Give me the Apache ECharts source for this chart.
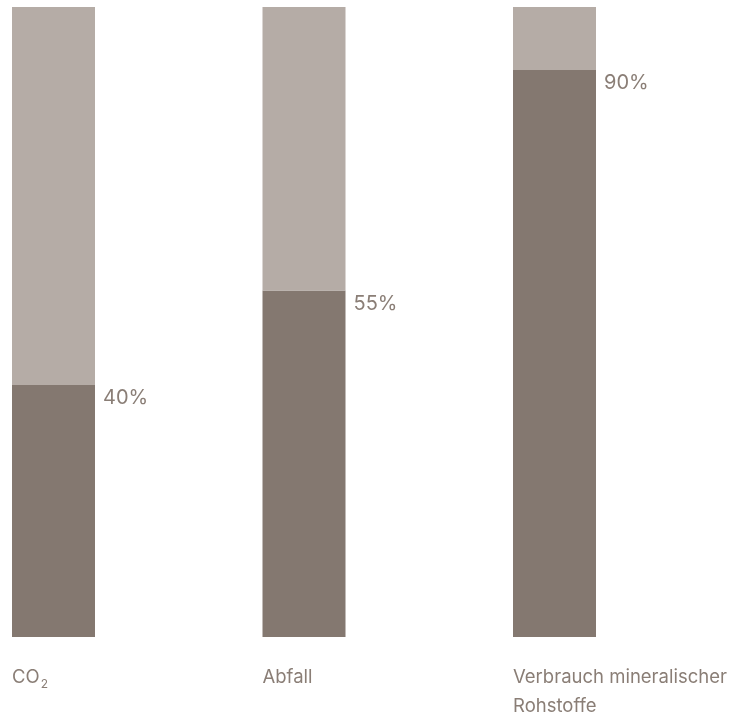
<!DOCTYPE html>
<html>
<head>
<meta charset="utf-8">
<script src="https://cdn.jsdelivr.net/npm/echarts@6/dist/echarts.min.js"></script>
<style>
html,body{margin:0;padding:0;background:#fff;}
#chart{width:736px;height:718px;}
</style>
</head>
<body>
<div id="chart"></div>
<script>
var categories = ['{a|CO}{sub|2}', 'Abfall', 'Verbrauch mineralischer\nRohstoffe'];
var shareValues = [40, 55, 90];
var restValues = [60, 45, 10];
var percentLabels = ['40%', '55%', '90%'];

var chart = echarts.init(document.getElementById('chart'), null, {renderer: 'canvas'});
var FONT = 'Inter, "Noto Sans", sans-serif';
var TEXT = '#8a7e76';
chart.setOption({
  animation: false,
  grid: {left: 53.5, right: 181.5, top: 7, bottom: 81, containLabel: false, outerBoundsMode: 'none'},
  xAxis: {
    type: 'category',
    data: categories,
    boundaryGap: false,
    axisLine: {show: false},
    axisTick: {show: false},
    splitLine: {show: false},
    axisLabel: {
      interval: 0,
      hideOverlap: false,
      align: 'left',
      margin: 26,
      padding: [0, 0, 0, -41.5],
      color: TEXT,
      fontFamily: FONT,
      fontSize: 18.5,
      lineHeight: 29,
      verticalAlign: 'top',
      rich: {
        a: {color: TEXT, fontFamily: FONT, fontSize: 18.5, lineHeight: 29},
        sub: {color: TEXT, fontFamily: FONT, fontSize: 12, padding: [13, 0, 0, 1]}
      }
    }
  },
  yAxis: {
    type: 'value', min: 0, max: 100,
    show: false,
    splitLine: {show: false}
  },
  series: [
    {
      type: 'bar', stack: 'a', barWidth: 83,
      data: shareValues,
      itemStyle: {color: '#847870'},
      label: {
        show: true,
        position: [91, 3],
        align: 'left',
        verticalAlign: 'top',
        color: TEXT,
        fontFamily: FONT,
        fontSize: 20,
        formatter: function (p) { return percentLabels[p.dataIndex]; }
      }
    },
    {
      type: 'bar', stack: 'a', barWidth: 83,
      data: restValues,
      itemStyle: {color: '#b5aca6'}
    }
  ]
});
</script>
</body>
</html>
